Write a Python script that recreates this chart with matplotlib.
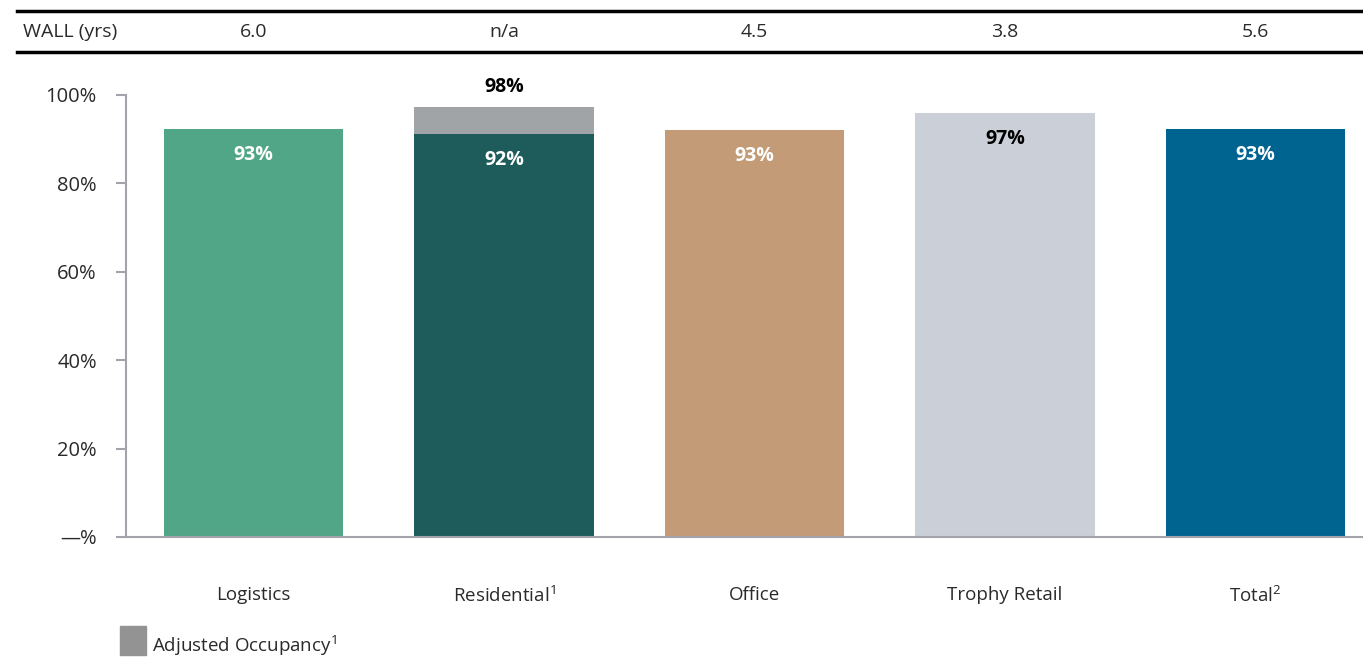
import numpy as np
import matplotlib.pyplot as plt
from matplotlib import transforms
from matplotlib.patches import Rectangle

plt.rcParams['font.family'] = ['Open Sans', 'DejaVu Sans']
plt.rcParams['mathtext.fontset'] = 'custom'
plt.rcParams['mathtext.rm'] = 'Open Sans'

# data
categories = ['Logistics', 'Residential$^{\\mathrm{1}}$', 'Office', 'Trophy Retail', 'Total$^{\\mathrm{2}}$']
occupancy = [92.4, 91.2, 92.0, 96.0, 92.4]
adjusted = [0, 6.0, 0, 0, 0]          # extra on top for adjusted occupancy
labels = ['93%', '92%', '93%', '97%', '93%']
adj_labels = ['', '98%', '', '', '']
wall = ['6.0', 'n/a', '4.5', '3.8', '5.6']
colors = ['#52A688', '#1D5C5A', '#C39B76', '#CBD0D8', '#006491']
label_colors = ['white', 'white', 'white', 'black', 'white']
grey = '#A1A4A7'
axis_col = '#A3A3AB'
txt = '#2a2a2a'

fig = plt.figure(figsize=(13.63, 6.59), dpi=100)
ax = fig.add_axes([126 / 1363, 122 / 659, 1 - 126 / 1363, 442 / 659])

x = np.arange(len(categories))
ax.bar(x, occupancy, width=0.715, color=colors, zorder=2)
ax.bar(x, adjusted, width=0.715, bottom=occupancy, color=grey, zorder=2)

ax.set_xlim(-0.509, 4.429)
ax.set_ylim(0, 100)

for i in range(len(x)):
    top = occupancy[i]
    ax.annotate(labels[i], (x[i], top), xytext=(0, -26), textcoords='offset pixels',
                ha='center', va='center', fontsize=14, fontweight='bold',
                color=label_colors[i])
    if adjusted[i] > 0:
        ax.annotate(adj_labels[i], (x[i], top + adjusted[i]), xytext=(0, 20),
                    textcoords='offset pixels', ha='center', va='center',
                    fontsize=14, fontweight='bold', color='black', annotation_clip=False)

ax.set_yticks([0, 20, 40, 60, 80, 100])
ax.set_yticklabels(['\u2014%', '20%', '40%', '60%', '80%', '100%'])
ax.tick_params(axis='y', length=7, width=1.5, color=axis_col, pad=14,
               labelsize=14.5, labelcolor=txt)
ax.set_xticks(x)
ax.set_xticklabels(categories)
ax.tick_params(axis='x', length=0, pad=35, labelsize=13.5, labelcolor=txt)

for s in ['top', 'right']:
    ax.spines[s].set_visible(False)
ax.spines['left'].set_color(axis_col)
ax.spines['left'].set_linewidth(1.5)
ax.spines['bottom'].set_color(axis_col)
ax.spines['bottom'].set_linewidth(1.5)

# WALL row at top
trans = transforms.blended_transform_factory(ax.transData, fig.transFigure)
fig.add_artist(plt.Line2D([17 / 1363, 1], [1 - 11 / 659] * 2, color='black', lw=2.5))
fig.add_artist(plt.Line2D([17 / 1363, 1], [1 - 52 / 659] * 2, color='black', lw=2.5))
fig.text(23 / 1363, 1 - 32 / 659, 'WALL (yrs)', ha='left', va='center', fontsize=14, color=txt)
for i in range(len(x)):
    ax.text(x[i], 1 - 32 / 659, wall[i], transform=trans, ha='center', va='center',
            fontsize=14, color=txt)

# legend
fig.add_artist(Rectangle((120 / 1363, 4 / 659), 26 / 1363, 29 / 659,
                         transform=fig.transFigure, color='#939393'))
fig.text(152 / 1363, 13 / 659, 'Adjusted Occupancy$^{\\mathrm{1}}$', ha='left', va='center',
         fontsize=13.5, color=txt)

fig.savefig('out.png', dpi=100)
